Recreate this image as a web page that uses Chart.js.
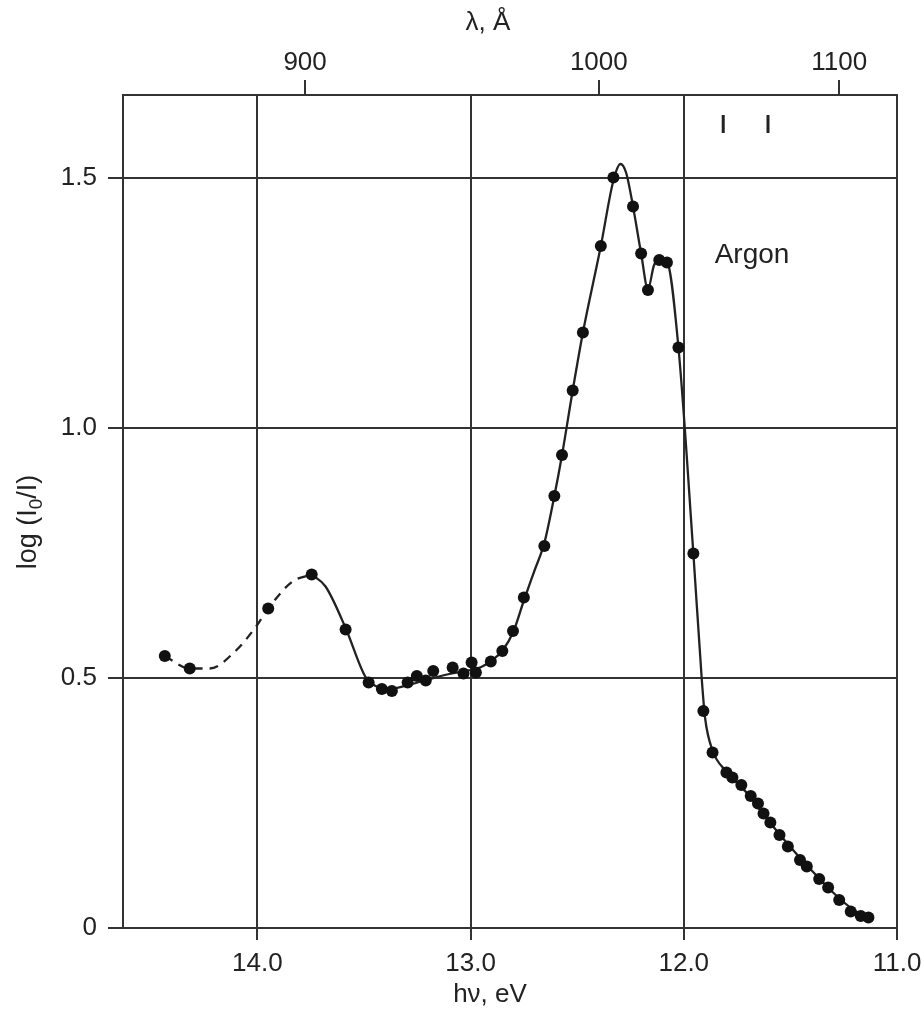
<!DOCTYPE html>
<html>
<head>
<meta charset="utf-8">
<script src="https://cdn.jsdelivr.net/npm/chart.js@4/dist/chart.umd.min.js"></script>
<style>
  html, body { margin: 0; padding: 0; background: #fff; }
  canvas { display: block; }
</style>
</head>
<body>
<canvas id="chart" width="924" height="1015"></canvas>
<script>
(function(){
  'use strict';

  // measured points, photon energy (eV) and log(I0/I)
  const energy = [14.434, 14.317, 13.949, 13.745, 13.586, 13.478, 13.416, 13.369, 13.295, 13.252,
    13.21, 13.175, 13.084, 13.033, 12.995, 12.975, 12.905, 12.851, 12.801, 12.75,
    12.654, 12.607, 12.571, 12.521, 12.473, 12.389, 12.33, 12.238, 12.2, 12.168,
    12.115, 12.079, 12.025, 11.955, 11.908, 11.865, 11.80, 11.772, 11.73, 11.686,
    11.652, 11.626, 11.594, 11.551, 11.512, 11.455, 11.423, 11.365, 11.323, 11.271,
    11.217, 11.17, 11.134];
  const absorb = [0.544, 0.519, 0.639, 0.707, 0.597, 0.491, 0.478, 0.474, 0.491, 0.504,
    0.495, 0.514, 0.521, 0.509, 0.531, 0.511, 0.533, 0.554, 0.594, 0.661,
    0.764, 0.864, 0.946, 1.075, 1.191, 1.364, 1.501, 1.443, 1.349, 1.276,
    1.336, 1.331, 1.161, 0.749, 0.434, 0.351, 0.311, 0.301, 0.286, 0.264,
    0.249, 0.229, 0.211, 0.186, 0.163, 0.136, 0.123, 0.098, 0.081, 0.056,
    0.033, 0.024, 0.021];

  // hand-drawn curve: dashed (uncertain) part and solid part
  const dashE = [14.434, 14.317, 14.224, 14.1, 14.006, 13.949, 13.835, 13.745];
  const dashY = [0.544, 0.519, 0.519, 0.555, 0.603, 0.639, 0.693, 0.707];
  const curveE = [13.745, 13.68, 13.586, 13.494, 13.45, 13.38, 13.3, 13.2, 13.1, 13.0,
    12.95, 12.9, 12.85, 12.8, 12.75, 12.7, 12.654, 12.607, 12.571, 12.521,
    12.473, 12.389, 12.33, 12.297, 12.27, 12.238, 12.2, 12.168, 12.14, 12.115,
    12.079, 12.025, 11.955, 11.916, 11.9, 11.865, 11.8, 11.7, 11.6, 11.5,
    11.4, 11.3, 11.2, 11.134];
  const curveY = [0.707, 0.683, 0.60, 0.503, 0.485, 0.478, 0.485, 0.497, 0.508, 0.516,
    0.522, 0.535, 0.555, 0.592, 0.655, 0.715, 0.77, 0.864, 0.946, 1.075,
    1.191, 1.364, 1.495, 1.528, 1.51, 1.443, 1.349, 1.278, 1.325, 1.338,
    1.333, 1.161, 0.749, 0.50, 0.42, 0.355, 0.313, 0.268, 0.213, 0.162,
    0.115, 0.071, 0.035, 0.021];

  // argon resonance lines (eV), marked near the top
  const lineE = [11.815, 11.605];
  const lineY = [1.608, 1.608];

  const xTicks = [14.0, 13.0, 12.0, 11.0];
  const yTicks = [0, 0.5, 1.0, 1.5];
  const lambdaTicks = [900, 1000, 1100];
  const HC = 12398.4; // eV*Å

  const FONT = "'Liberation Sans', Arial, Helvetica, sans-serif";
  const INK = '#222';
  const GRID = '#333';

  const pts = (xs, ys) => xs.map((x, i) => ({ x, y: ys[i] }));
  const noPad = s => { s.paddingLeft = 0; s.paddingRight = 0; };

  const textPlugin = {
    id: 'labels',
    afterDraw(chart){
      const { ctx, scales: { x, y } } = chart;
      ctx.save();
      ctx.fillStyle = INK;
      ctx.textBaseline = 'middle';
      ctx.textAlign = 'center';
      ctx.font = '26px ' + FONT;
      ctx.fillText('λ, Å', 488, 23);
      ctx.fillText('hν, eV', 490, 995);

      // Argon label inside the plot
      ctx.textAlign = 'left';
      ctx.textBaseline = 'alphabetic';
      ctx.font = '28px ' + FONT;
      ctx.fillText('Argon', x.getPixelForValue(11.855), y.getPixelForValue(1.33));

      // y title with subscript, rotated
      ctx.translate(29, 522);
      ctx.rotate(-Math.PI / 2);
      const big = '27px ' + FONT, small = '19px ' + FONT;
      const parts = [['log (I', big, 0], ['0', small, 8], ['/I)', big, 0]];
      let w = 0;
      parts.forEach(p => { ctx.font = p[1]; w += ctx.measureText(p[0]).width; });
      let cx = -w / 2;
      ctx.textBaseline = 'middle';
      parts.forEach(p => {
        ctx.font = p[1];
        ctx.fillText(p[0], cx, p[2]);
        cx += ctx.measureText(p[0]).width;
      });
      ctx.restore();
    }
  };

  new Chart(document.getElementById('chart'), {
    type: 'scatter',
    data: {
      datasets: [
        { label: 'data', data: pts(energy, absorb), showLine: false,
          pointRadius: 6, pointHoverRadius: 6, backgroundColor: '#111', borderWidth: 0 },
        { label: 'lines', data: pts(lineE, lineY), showLine: false, pointStyle: 'line',
          rotation: 90, pointRadius: 9, borderColor: '#222', borderWidth: 3 },
        { label: 'curve', data: pts(curveE, curveY), showLine: true, pointRadius: 0,
          borderColor: '#222', borderWidth: 2.3, cubicInterpolationMode: 'monotone' },
        { label: 'dashed', data: pts(dashE, dashY), showLine: true, pointRadius: 0,
          borderColor: '#222', borderWidth: 2.3, borderDash: [9, 7], cubicInterpolationMode: 'monotone' }
      ]
    },
    options: {
      responsive: false,
      animation: false,
      devicePixelRatio: 1,
      layout: { padding: { left: 0, right: 27, top: 0, bottom: 0 } },
      plugins: { legend: { display: false }, tooltip: { enabled: false } },
      scales: {
        x: {
          type: 'linear', position: 'bottom', reverse: true, min: 11.0, max: 14.63,
          afterBuildTicks: s => { s.ticks = xTicks.map(v => ({ value: v })); },
          afterFit: s => { s.height = 87; noPad(s); },
          ticks: { callback: v => v.toFixed(1), font: { family: FONT, size: 26 }, color: INK,
            padding: 8, maxRotation: 0, autoSkip: false },
          grid: { color: GRID, lineWidth: 2, tickLength: 12 },
          border: { color: GRID, width: 2 }
        },
        x2: {
          type: 'linear', position: 'top', reverse: true, min: 11.0, max: 14.63,
          afterBuildTicks: s => { s.ticks = lambdaTicks.map(l => ({ value: HC / l })); },
          afterFit: s => { s.height = 95; noPad(s); },
          ticks: { callback: v => String(Math.round(HC / v)), font: { family: FONT, size: 26 }, color: INK,
            padding: 2, maxRotation: 0, autoSkip: false },
          grid: { drawOnChartArea: false, color: GRID, lineWidth: 2, tickLength: 15 },
          border: { color: GRID, width: 2 }
        },
        y: {
          min: 0, max: 1.666,
          afterBuildTicks: s => { s.ticks = yTicks.map(v => ({ value: v })); },
          afterFit: s => { s.width = 123; },
          ticks: { callback: v => v === 0 ? '0' : v.toFixed(1), font: { family: FONT, size: 26 }, color: INK,
            padding: 11, autoSkip: false },
          grid: { color: GRID, lineWidth: 2, tickLength: 15 },
          border: { color: GRID, width: 2 }
        }
      }
    },
    plugins: [textPlugin]
  });
})();
</script>
</body>
</html>
